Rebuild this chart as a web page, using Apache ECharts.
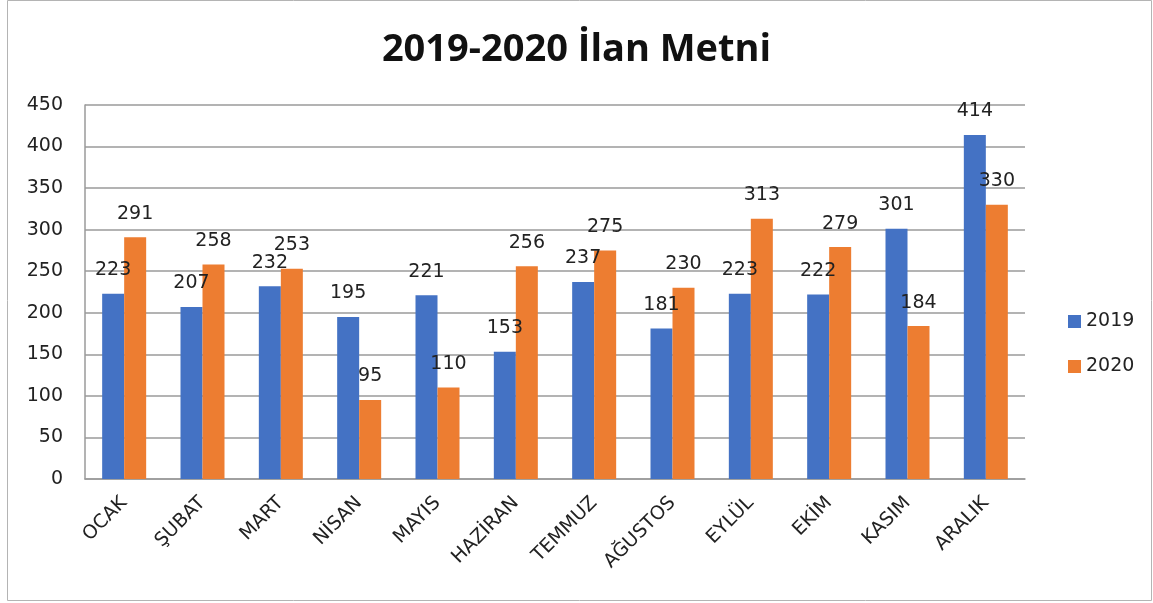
<!DOCTYPE html>
<html lang="tr">

<head>
    <meta charset="UTF-8">
    <title>2019-2020 İlan Metni</title>
    <script src="https://cdn.jsdelivr.net/npm/echarts@6/dist/echarts.min.js"></script>
</head>

<body style="margin: 0; background: #fff">
    <div id="container" style="width: 1153px; height: 603px"></div>
    <script type="text/javascript">
        var months = ['OCAK', 'ŞUBAT', 'MART', 'NİSAN', 'MAYIS', 'HAZİRAN', 'TEMMUZ', 'AĞUSTOS', 'EYLÜL', 'EKİM', 'KASIM', 'ARALIK'];
        var data2019 = [223, 207, 232, 195, 221, 153, 237, 181, 223, 222, 301, 414];
        var data2020 = [291, 258, 253, 95, 110, 256, 275, 230, 313, 279, 184, 330];

        var font = '"DejaVu Sans", sans-serif';
        var myChart = echarts.init(document.getElementById('container'), null, { renderer: 'canvas' });

        var labelStyle = {
            show: true,
            position: 'top',
            distance: 14,
            color: '#222',
            fontSize: 19,
            fontFamily: font
        };

        var option = {
            backgroundColor: '#fff',
            animation: false,
            title: {
                text: '2019-2020 İlan Metni',
                left: 'center',
                top: 26,
                textStyle: { fontSize: 38, fontWeight: 'bold', color: '#111', fontFamily: '"Open Sans", sans-serif' }
            },
            graphic: [{
                type: 'rect',
                shape: { x: 7.5, y: 0.5, width: 1144, height: 600 },
                style: { fill: 'none', stroke: '#b4b4b4', lineWidth: 1 },
                silent: true
            }],
            legend: {
                orient: 'vertical',
                left: 1063,
                top: 307,
                itemWidth: 13,
                itemHeight: 13,
                itemGap: 26,
                icon: 'rect',
                textStyle: { fontSize: 19, color: '#222', fontFamily: font }
            },
            grid: { left: 85, right: 128, top: 105, bottom: 124 },
            xAxis: {
                type: 'category',
                data: months,
                axisLine: { lineStyle: { color: '#9a9a9a', width: 1.5 } },
                axisTick: { show: false },
                axisLabel: {
                    rotate: 45,
                    interval: 0,
                    margin: 21,
                    fontSize: 19,
                    color: '#222',
                    fontFamily: font
                }
            },
            yAxis: {
                type: 'value',
                min: 0,
                max: 450,
                interval: 50,
                axisLine: { show: true, lineStyle: { color: '#9a9a9a', width: 1.5 } },
                axisTick: { show: false },
                splitLine: { lineStyle: { color: '#9a9a9a', width: 1.5 } },
                axisLabel: { fontSize: 19, color: '#222', margin: 22, fontFamily: font }
            },
            series: [
                {
                    name: '2019',
                    type: 'bar',
                    data: data2019,
                    barWidth: 22,
                    barGap: '0%',
                    itemStyle: { color: '#4472C4' },
                    label: labelStyle
                },
                {
                    name: '2020',
                    type: 'bar',
                    data: data2020,
                    barWidth: 22,
                    itemStyle: { color: '#ED7D31' },
                    label: labelStyle
                }
            ]
        };

        myChart.setOption(option);
        window.addEventListener('resize', myChart.resize);
    </script>
</body>

</html>
